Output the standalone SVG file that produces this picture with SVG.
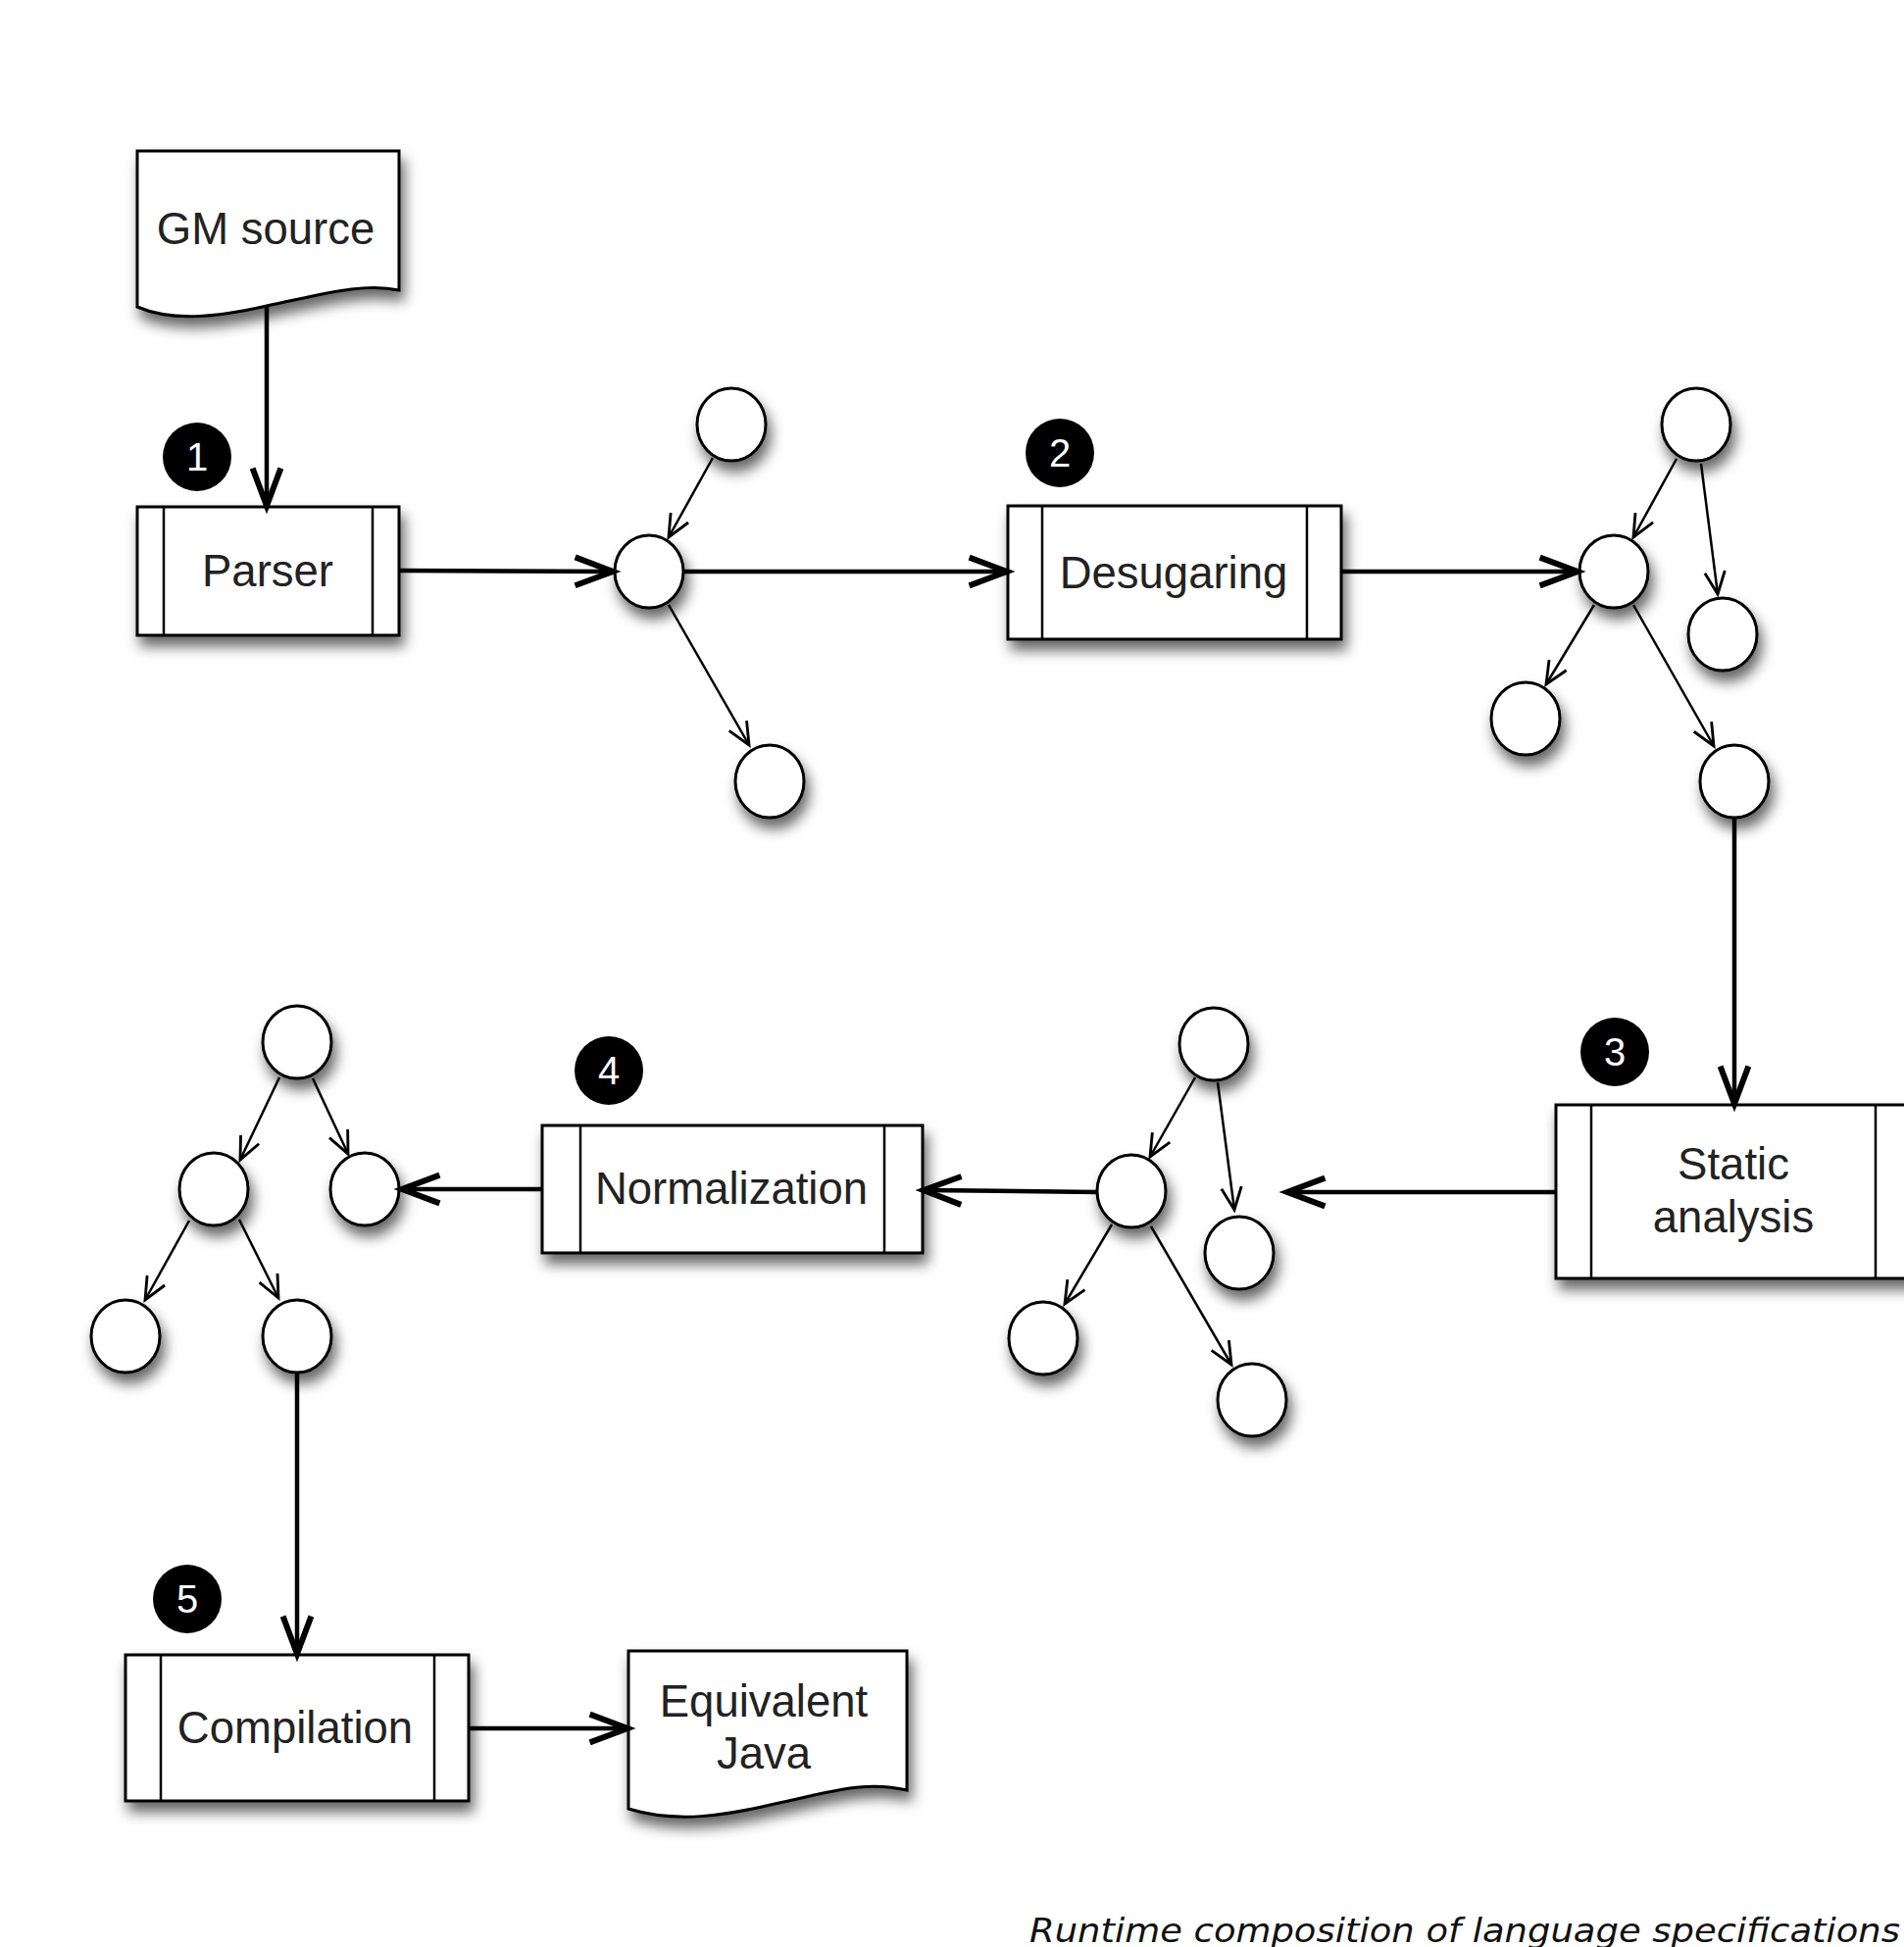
<svg xmlns="http://www.w3.org/2000/svg" width="1942" height="1986" viewBox="0 0 1942 1986">
  <defs>
    <filter id="sh" x="-30%" y="-30%" width="170%" height="180%">
      <feDropShadow dx="4" dy="10" stdDeviation="7" flood-color="#000" flood-opacity="0.6"/>
    </filter>
    <marker id="big" markerUnits="userSpaceOnUse" markerWidth="60" markerHeight="60" viewBox="-40 -20 50 40" refX="0" refY="0" orient="auto" overflow="visible">
      <path d="M-32,-12 L0,0 L-32,12" fill="none" stroke="#000" stroke-width="5" stroke-linejoin="miter"/>
    </marker>
    <marker id="thin" markerUnits="userSpaceOnUse" markerWidth="40" markerHeight="40" viewBox="-30 -15 35 30" refX="0" refY="0" orient="auto" overflow="visible">
      <path d="M-20,-9 L0,0 L-20,9" fill="none" stroke="#000" stroke-width="2.5"/>
    </marker>
  </defs>
  <style>
    .box{fill:#fff;stroke:#000;stroke-width:3}
    .inner{stroke:#000;stroke-width:2.5;fill:none}
    .nd{fill:#fff;stroke:#000;stroke-width:3}
    .lbl{font-family:"Liberation Sans",Arial,sans-serif;font-size:45.5px;fill:#222;text-anchor:middle}
    .badge{fill:#000}
    .num{font-family:"Liberation Sans",Arial,sans-serif;font-size:40px;fill:#fff;text-anchor:middle}
    .conn{stroke:#000;stroke-width:4.5;fill:none;marker-end:url(#big)}
    .edge{stroke:#000;stroke-width:2.5;fill:none;marker-end:url(#thin)}
    .cap{font-family:"DejaVu Sans",Verdana,sans-serif;font-style:italic;font-size:34px;fill:#111}
  </style>
  <rect width="1942" height="1986" fill="#fff"/>

  <g id="gm-source">
    <path class="box" filter="url(#sh)" d="M140,154 H407 V296 C370,288 330,300 272,312 C220,324 175,328 140,313 Z"/>
    <text class="lbl" x="271" y="249">GM source</text>
  </g>

  <g id="parser">
    <rect class="box" filter="url(#sh)" x="140" y="517" width="267" height="131"/>
    <line class="inner" x1="167" y1="517" x2="167" y2="648"/>
    <line class="inner" x1="380" y1="517" x2="380" y2="648"/>
    <text class="lbl" x="273" y="598">Parser</text>
  </g>
  <g id="badge-1"><circle class="badge" cx="201" cy="466" r="35"/><text class="num" x="201" y="480">1</text></g>

  <g id="desugaring">
    <rect class="box" filter="url(#sh)" x="1028" y="516" width="340" height="136"/>
    <line class="inner" x1="1063" y1="516" x2="1063" y2="652"/>
    <line class="inner" x1="1333" y1="516" x2="1333" y2="652"/>
    <text class="lbl" x="1197" y="600">Desugaring</text>
  </g>
  <g id="badge-2"><circle class="badge" cx="1081" cy="462" r="35"/><text class="num" x="1081" y="476">2</text></g>

  <g id="static-analysis">
    <rect class="box" filter="url(#sh)" x="1587" y="1127" width="370" height="177"/>
    <line class="inner" x1="1623" y1="1127" x2="1623" y2="1304"/>
    <line class="inner" x1="1913" y1="1127" x2="1913" y2="1304"/>
    <text class="lbl" x="1768" y="1203">Static</text>
    <text class="lbl" x="1768" y="1257">analysis</text>
  </g>
  <g id="badge-3"><circle class="badge" cx="1647" cy="1073" r="35"/><text class="num" x="1647" y="1087">3</text></g>

  <g id="normalization">
    <rect class="box" filter="url(#sh)" x="553" y="1148" width="388" height="130"/>
    <line class="inner" x1="592" y1="1148" x2="592" y2="1278"/>
    <line class="inner" x1="902" y1="1148" x2="902" y2="1278"/>
    <text class="lbl" x="746" y="1228">Normalization</text>
  </g>
  <g id="badge-4"><circle class="badge" cx="621" cy="1092" r="35"/><text class="num" x="621" y="1106">4</text></g>

  <g id="compilation">
    <rect class="box" filter="url(#sh)" x="128" y="1688" width="350" height="149"/>
    <line class="inner" x1="164" y1="1688" x2="164" y2="1837"/>
    <line class="inner" x1="443" y1="1688" x2="443" y2="1837"/>
    <text class="lbl" x="301" y="1778">Compilation</text>
  </g>
  <g id="badge-5"><circle class="badge" cx="191" cy="1631" r="35"/><text class="num" x="191" y="1645">5</text></g>

  <g id="equivalent-java">
    <path class="box" filter="url(#sh)" d="M641,1684 H925 V1826 C880,1815 840,1830 790,1840 C740,1852 690,1860 641,1845 Z"/>
    <text class="lbl" x="779" y="1751">Equivalent</text>
    <text class="lbl" x="779" y="1804">Java</text>
  </g>

  <g id="tree-1">
    <ellipse class="nd" filter="url(#sh)" cx="746" cy="433" rx="35" ry="37"/>
    <ellipse class="nd" filter="url(#sh)" cx="662" cy="583" rx="35" ry="37"/>
    <ellipse class="nd" filter="url(#sh)" cx="785" cy="797" rx="35" ry="37"/>
  </g>
  <g id="tree-2">
    <ellipse class="nd" filter="url(#sh)" cx="1730" cy="433" rx="35" ry="37"/>
    <ellipse class="nd" filter="url(#sh)" cx="1646" cy="583" rx="35" ry="37"/>
    <ellipse class="nd" filter="url(#sh)" cx="1757" cy="647" rx="35" ry="37"/>
    <ellipse class="nd" filter="url(#sh)" cx="1556" cy="733" rx="35" ry="37"/>
    <ellipse class="nd" filter="url(#sh)" cx="1769" cy="797" rx="35" ry="37"/>
  </g>
  <g id="tree-3">
    <ellipse class="nd" filter="url(#sh)" cx="1238" cy="1065" rx="35" ry="37"/>
    <ellipse class="nd" filter="url(#sh)" cx="1154" cy="1215" rx="35" ry="37"/>
    <ellipse class="nd" filter="url(#sh)" cx="1264" cy="1278" rx="35" ry="37"/>
    <ellipse class="nd" filter="url(#sh)" cx="1064" cy="1365" rx="35" ry="37"/>
    <ellipse class="nd" filter="url(#sh)" cx="1277" cy="1428" rx="35" ry="37"/>
  </g>
  <g id="tree-4">
    <ellipse class="nd" filter="url(#sh)" cx="303" cy="1063" rx="35" ry="37"/>
    <ellipse class="nd" filter="url(#sh)" cx="218" cy="1213" rx="35" ry="37"/>
    <ellipse class="nd" filter="url(#sh)" cx="372" cy="1213" rx="35" ry="37"/>
    <ellipse class="nd" filter="url(#sh)" cx="128" cy="1363" rx="35" ry="37"/>
    <ellipse class="nd" filter="url(#sh)" cx="303" cy="1363" rx="35" ry="37"/>
  </g>

  <g id="connectors">
    <line class="conn" x1="272" y1="313" x2="272" y2="516"/>
    <line class="conn" x1="407" y1="582" x2="625" y2="583"/>
    <line class="conn" x1="697" y1="583" x2="1027" y2="583"/>
    <line class="conn" x1="1368" y1="583" x2="1609" y2="583"/>
    <line class="conn" x1="1769" y1="834" x2="1769" y2="1126"/>
    <line class="conn" x1="1587" y1="1216" x2="1313" y2="1216"/>
    <line class="conn" x1="1119" y1="1216" x2="942" y2="1214"/>
    <line class="conn" x1="553" y1="1213" x2="410" y2="1213"/>
    <line class="conn" x1="303" y1="1400" x2="303" y2="1687"/>
    <line class="conn" x1="478" y1="1763" x2="640" y2="1763"/>

    <line class="edge" x1="727" y1="467" x2="682" y2="548"/>
    <line class="edge" x1="682" y1="617" x2="764" y2="760"/>

    <line class="edge" x1="1710" y1="468" x2="1666" y2="548"/>
    <line class="edge" x1="1735" y1="473" x2="1752" y2="606"/>
    <line class="edge" x1="1626" y1="617" x2="1577" y2="698"/>
    <line class="edge" x1="1666" y1="617" x2="1748" y2="761"/>

    <line class="edge" x1="1219" y1="1099" x2="1173" y2="1180"/>
    <line class="edge" x1="1242" y1="1104" x2="1259" y2="1234"/>
    <line class="edge" x1="1134" y1="1249" x2="1086" y2="1330"/>
    <line class="edge" x1="1174" y1="1251" x2="1256" y2="1392"/>

    <line class="edge" x1="285" y1="1099" x2="245" y2="1183"/>
    <line class="edge" x1="319" y1="1100" x2="355" y2="1177"/>
    <line class="edge" x1="193" y1="1245" x2="148" y2="1326"/>
    <line class="edge" x1="244" y1="1244" x2="284" y2="1324"/>
  </g>

  <text class="cap" x="1050" y="1981" textLength="888" lengthAdjust="spacingAndGlyphs">Runtime composition of language specifications</text>
</svg>
